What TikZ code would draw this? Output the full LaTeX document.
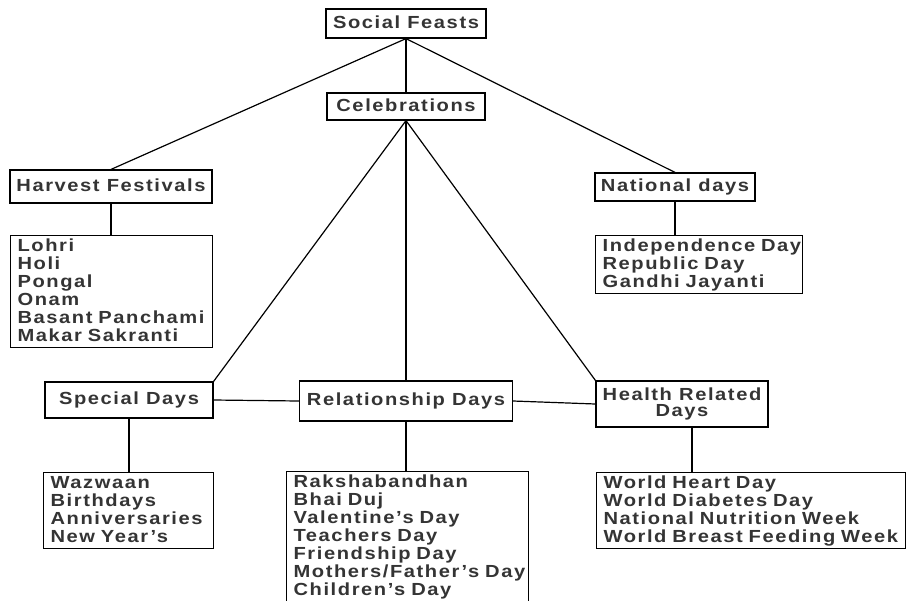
\documentclass[tikz,border=0pt]{standalone}
\usepackage{fontspec}
\newfontfamily\diagfont{Liberation Sans}[FakeStretch=1.15, LetterSpace=9]
\definecolor{txt}{RGB}{52,52,52}
% one list entry: an invisible rule keeps every line exactly 18pt high,
% the box stops line breaks
\newcommand\li[1]{\mbox{\rule[-4.5pt]{0pt}{18pt}#1}}
\tikzset{
  base/.style={draw=black, line width=1.2pt, text=txt,
    font=\diagfont\bfseries\fontsize{17.5}{18}\selectfont},
  hdr/.style={base, inner sep=0pt, align=center, text height=12.5pt, text depth=3.5pt},
  hdrtwo/.style={base, inner sep=0pt, align=center,
    font=\diagfont\bfseries\fontsize{17.5}{16}\selectfont},
  listbox/.style={base, anchor=north west, align=left, inner xsep=7pt, inner ysep=2pt,
    text width=#1-14pt},
  conn/.style={draw=black, line width=1.2pt}
}
\begin{document}
\begin{tikzpicture}[x=1pt,y=-1pt]
\useasboundingbox (0,0) rectangle (907,600);

% headings
\node[hdr, minimum width=160pt, minimum height=29pt] (social) at (406,23.5) {Social Feasts};
\node[hdr, minimum width=158pt, minimum height=27pt] (celeb) at (406,106.5) {Celebrations};
\node[hdr, minimum width=202pt, minimum height=33pt] (harvest) at (111,186.5) {Harvest Festivals};
\node[hdr, minimum width=160pt, minimum height=28pt] (national) at (675,187) {National days};
\node[hdr, minimum width=168pt, minimum height=36pt] (special) at (129,400) {Special Days};
\node[hdr, minimum width=213pt, minimum height=40pt] (rel) at (406,401) {Relationship Days};
\node[hdrtwo, minimum width=172pt, minimum height=46pt] (health) at (682,404) {Health Related\\Days};

% lists
\node[listbox=202pt] (harvestlist) at (10,235)
  {\li{Lohri}\\\li{Holi}\\\li{Pongal}\\\li{Onam}\\\li{Basant Panchami}\\\li{Makar Sakranti}};
\node[listbox=207pt] (nationallist) at (595,235)
  {\li{Independence Day}\\\li{Republic Day}\\\li{Gandhi Jayanti}};
\node[listbox=170pt] (speciallist) at (43,472)
  {\li{Wazwaan}\\\li{Birthdays}\\\li{Anniversaries}\\\li{New Year’s}};
\node[listbox=242pt] (rellist) at (286,471)
  {\li{Rakshabandhan}\\\li{Bhai Duj}\\\li{Valentine’s Day}\\\li{Teachers Day}\\
   \li{Friendship Day}\\\li{Mothers/Father’s Day}\\\li{Children’s Day}};
\node[listbox=309pt] (healthlist) at (596,472)
  {\li{World Heart Day}\\\li{World Diabetes Day}\\\li{National Nutrition Week}\\
   \li{World Breast Feeding Week}};

% connectors
\draw[conn] (social.south) -- (harvest.north);
\draw[conn] (social.south) -- (national.north);
\draw[conn] (social.south) -- (celeb.north);
\draw[conn] (celeb.south) -- (special.north east);
\draw[conn] (celeb.south) -- (rel.north);
\draw[conn] (celeb.south) -- (health.north west);
\draw[conn] (special.east) -- (rel.west);
\draw[conn] (rel.east) -- (health.west);
\draw[conn] (harvest.south) -- (harvest.south |- harvestlist.north);
\draw[conn] (national.south) -- (national.south |- nationallist.north);
\draw[conn] (special.south) -- (special.south |- speciallist.north);
\draw[conn] (rel.south) -- (rel.south |- rellist.north);
\draw[conn] ([xshift=10pt]health.south) -- ([xshift=10pt]health.south |- healthlist.north);
\end{tikzpicture}
\end{document}
